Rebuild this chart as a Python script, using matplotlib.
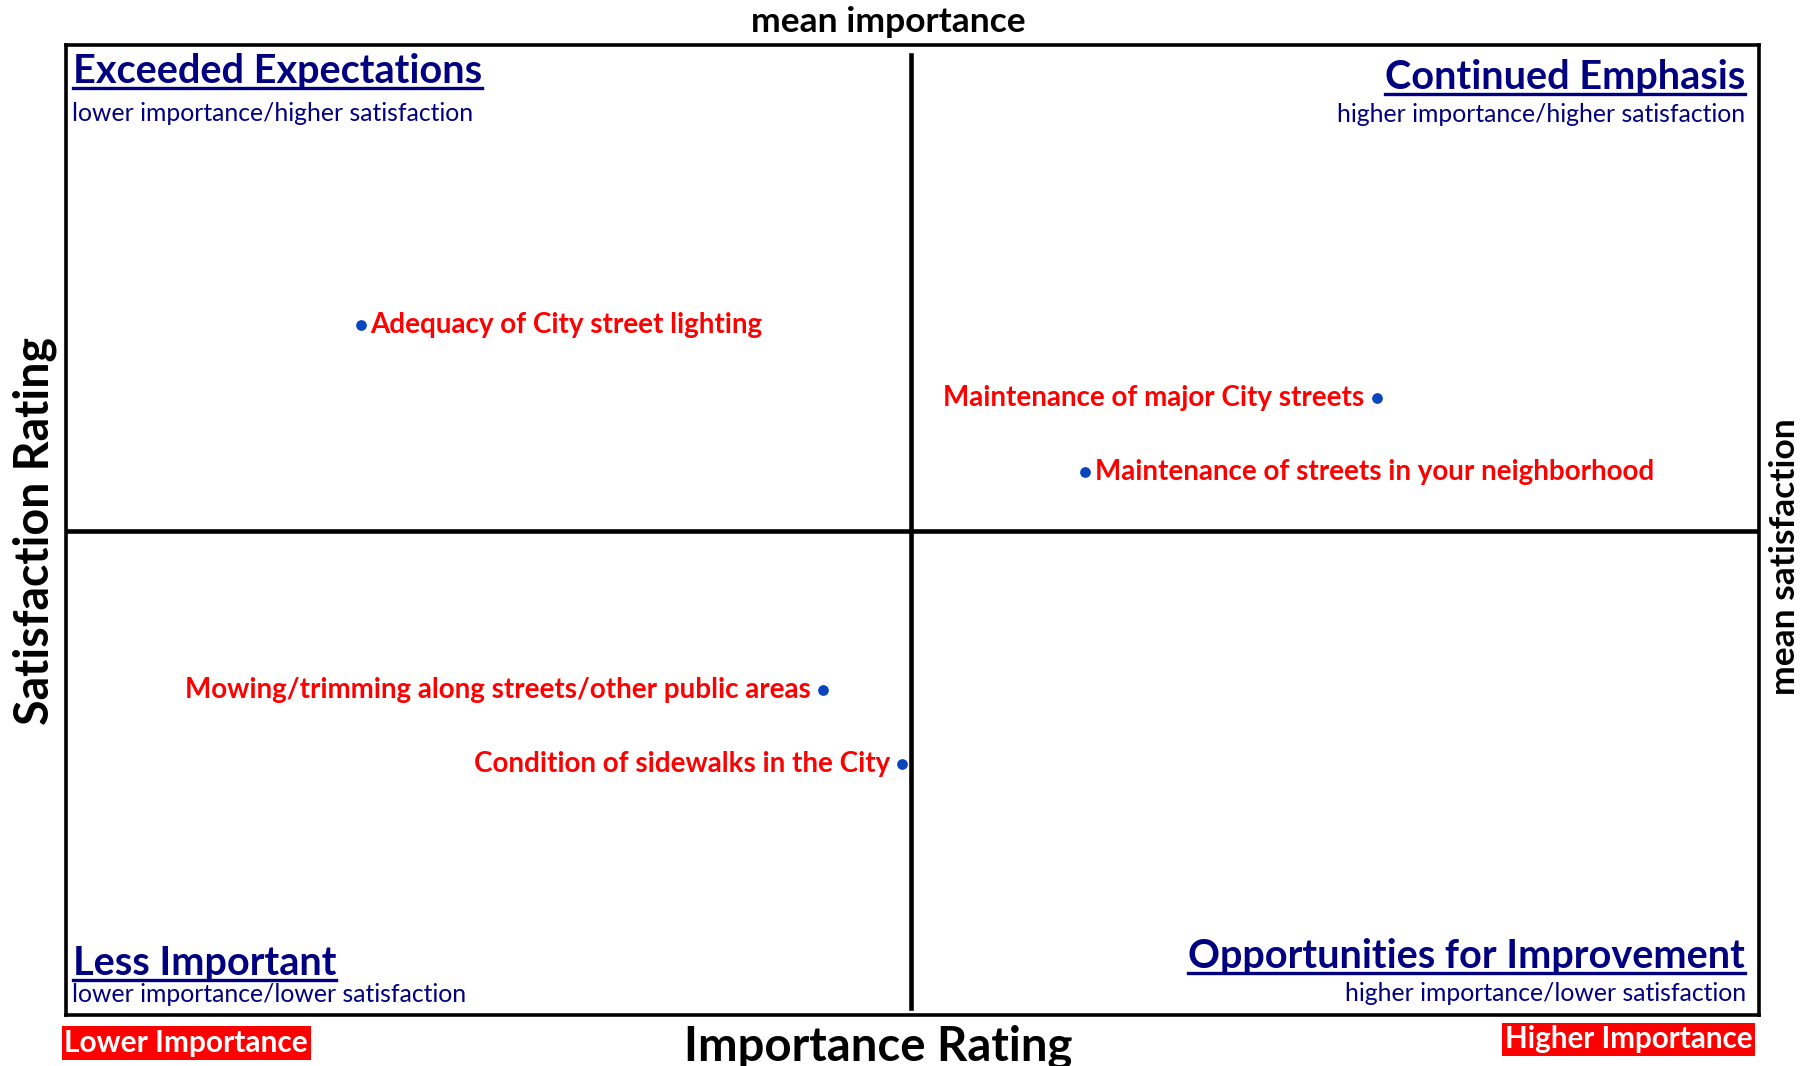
import matplotlib
matplotlib.use("Agg")
import matplotlib.pyplot as plt
from matplotlib.lines import Line2D

# quadrant data (importance / satisfaction, arbitrary 0-100 scale)
items = [
    "Adequacy of City street lighting",
    "Maintenance of major City streets",
    "Maintenance of streets in your neighborhood",
    "Mowing/trimming along streets/other public areas",
    "Condition of sidewalks in the City",
]
importance = [17.4, 77.4, 60.2, 44.7, 49.4]
satisfaction = [71.1, 63.6, 56.0, 33.5, 25.9]
mean_importance = 49.9
mean_satisfaction = 49.9

quadrant_titles = ["Exceeded Expectations", "Continued Emphasis",
                   "Less Important", "Opportunities for Improvement"]
quadrant_subs = ["lower importance/higher satisfaction",
                 "higher importance/higher satisfaction",
                 "lower importance/lower satisfaction",
                 "higher importance/lower satisfaction"]

# which side of the dot the label goes
label_side = ["right", "left", "right", "left", "left"]

NAVY = "#000080"
RED = "#ff0000"
DOT = "#0a45c0"
FONT = "Lato"

plt.rcParams["font.family"] = [FONT, "DejaVu Sans"]

fig = plt.figure(figsize=(18.16, 10.66), dpi=100)
ax = fig.add_axes([0.03635, 0.0478, 0.9324, 0.9098])
ax.set_xlim(0, 100)
ax.set_ylim(0, 100)
ax.set_xticks([])
ax.set_yticks([])
for sp in ax.spines.values():
    sp.set_linewidth(2.6)
    sp.set_color("black")

ax.axvline(mean_importance, ymin=0.007, ymax=0.990, color="black", lw=3.3)
ax.axhline(mean_satisfaction, color="black", lw=3.3)

ax.scatter(importance, satisfaction, s=45, color=DOT, zorder=3)
for name, x, y, side in zip(items, importance, satisfaction, label_side):
    off = 7 if side == "right" else -9
    ha = "left" if side == "right" else "right"
    ax.annotate(name, (x, y), xytext=(off, 0), textcoords="offset points",
                ha=ha, va="center", color=RED, fontsize=20, fontweight="bold")

# quadrant titles
title_pos = [(0.0041, 0.9606, "left"), (0.9918, 0.9546, "right"),
             (0.0041, 0.0418, "left"), (0.9918, 0.0490, "right")]
sub_pos = [(0.0034, 0.9223), (0.9918, 0.9211), (0.0034, 0.0131), (0.9925, 0.0143)]
titles = []
for t, s, (tx, ty, ha), (sx, sy) in zip(quadrant_titles, quadrant_subs, title_pos, sub_pos):
    tt = ax.text(tx, ty, t, transform=ax.transAxes, ha=ha, va="baseline",
                 color=NAVY, fontsize=28.5, fontweight="bold")
    titles.append(tt)
    ax.text(sx, sy, s, transform=ax.transAxes, ha=ha, va="baseline",
            color=NAVY, fontsize=17.8)

fig.text(0.4892, 0.9696, "mean importance", ha="center", va="baseline",
         fontsize=25.5, fontweight="bold")
fig.text(0.9828, 0.4783, "mean satisfaction", ha="center", va="center",
         rotation=90, fontsize=25.5, fontweight="bold")
fig.text(0.0191, 0.502, "Satisfaction Rating", ha="center", va="center",
         rotation=90, fontsize=33.5, fontweight="bold")
fig.text(0.4834, 0.0054, "Importance Rating", ha="center", va="baseline",
         fontsize=34, fontweight="bold")

fig.text(0.0355, 0.0217, "Lower Importance", ha="left", va="center",
         color="white", fontsize=21.5, fontweight="bold",
         bbox=dict(facecolor=RED, edgecolor="none", pad=2))
fig.text(0.9650, 0.025, "Higher Importance", ha="right", va="center",
         color="white", fontsize=21.3, fontweight="bold",
         bbox=dict(facecolor=RED, edgecolor="none", pad=2))

# underline the quadrant titles
fig.canvas.draw()
inv = fig.transFigure.inverted()
for tt in titles:
    bb = tt.get_window_extent()
    (x0, y0), (x1, _) = inv.transform([(bb.x0, bb.y0), (bb.x1, bb.y1)])
    y_line = y0 + 2.0 / fig.bbox.height
    fig.add_artist(Line2D([x0, x1], [y_line, y_line], transform=fig.transFigure,
                          color=NAVY, lw=2.4))

fig.savefig("out.png", dpi=100)
